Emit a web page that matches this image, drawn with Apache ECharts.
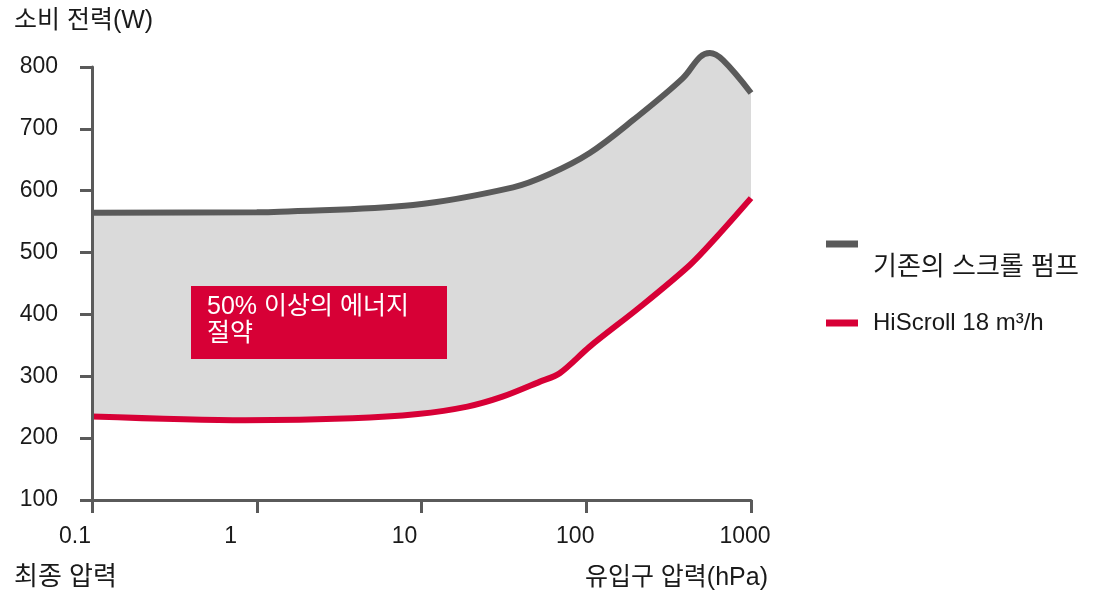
<!DOCTYPE html>
<html>
<head>
<meta charset="utf-8">
<script src="https://cdn.jsdelivr.net/npm/echarts@6/dist/echarts.min.js"></script>
<style>
html,body{margin:0;padding:0;background:#fff;}
#chart{width:1099px;height:595px;}
</style>
</head>
<body>
<div id="chart"></div>
<script>
// ---- data ----
var grayName = '기존의 스크롤 펌프';
var redName = 'HiScroll 18 m³/h';
var grayX = [0.1, 1, 1.38, 8.9, 36, 60, 105, 192, 386, 490, 563, 676, 1000];
var grayY = [564.5, 565, 566, 577, 605.5, 627, 661, 714, 782, 816, 822.6, 811, 758];
var redX = [0.1, 0.85, 3.8, 9.5, 19, 31, 52, 69, 105, 212, 426, 622, 1000];
var redY = [235, 229, 232, 239, 251, 267, 291, 305, 348, 412, 480, 526, 588];
var xTickLabels = ['0.1', '1', '10', '100', '1000'];
var yTicks = [100, 200, 300, 400, 500, 600, 700, 800];
var yTitle = '소비 전력(W)';
var xTitleLeft = '최종 압력';
var xTitleRight = '유입구 압력(hPa)';
var noteLines = ['50% 이상의 에너지', '절약'];

var FONT = "'Liberation Sans', 'Noto Sans CJK KR', sans-serif";
var TXT = '#1a1a1a';
var GRAY = '#5a5a5a';
var RED = '#d70036';
var FILL = '#dadada';

function pairs(xs, ys) { return xs.map(function (x, i) { return [x, ys[i]]; }); }

// per-label shift (right padding shifts centred label to the left)
var labelPad = [34, 52, 34, 22, 12];
var rich = {};
labelPad.forEach(function (p, i) {
  rich['p' + i] = { padding: [0, p, 0, 0], fontSize: 23, fontFamily: FONT, color: TXT };
});

var chart = echarts.init(document.getElementById('chart'));
chart.setOption({
  backgroundColor: '#fff',
  animation: false,
  grid: { left: 92, right: 348, top: 67, bottom: 95, containLabel: false },
  xAxis: {
    type: 'log', logBase: 10, min: 0.1, max: 1000, z: 10,
    axisLine: { lineStyle: { color: GRAY, width: 3 } },
    axisTick: { show: true, length: 13, lineStyle: { color: GRAY, width: 3 } },
    minorTick: { show: false },
    splitLine: { show: false },
    axisLabel: {
      margin: 25, showMinLabel: true, showMaxLabel: true,
      fontSize: 23, fontFamily: FONT, color: TXT,
      formatter: function (v) {
        var i = Math.round(Math.log10(v)) + 1;
        return '{p' + i + '|' + xTickLabels[i] + '}';
      },
      rich: rich
    }
  },
  yAxis: {
    type: 'value', min: yTicks[0], max: yTicks[yTicks.length - 1], interval: 100, z: 10,
    axisLine: { show: true, lineStyle: { color: GRAY, width: 3 } },
    axisTick: { show: true, length: 12, lineStyle: { color: GRAY, width: 3 } },
    splitLine: { show: false },
    axisLabel: { margin: 34, fontSize: 23, fontFamily: FONT, color: TXT }
  },
  legend: {
    orient: 'vertical', left: 826, top: 207, itemGap: 30, padding: 0,
    icon: 'rect', itemWidth: 32, itemHeight: 7,
    data: [grayName, redName],
    formatter: function (n) { return n === grayName ? '{a|' + n + '}' : '{b|' + n + '}'; },
    textStyle: {
      fontSize: 24, fontFamily: FONT, color: TXT,
      rich: {
        a: { padding: [48, 0, 0, 10], fontSize: 26, fontFamily: FONT, color: TXT, lineHeight: 24 },
        b: { padding: [0, 0, 0, 10], fontSize: 24, fontFamily: FONT, color: TXT, lineHeight: 24 }
      }
    }
  },
  series: [
    {
      name: grayName, type: 'line', data: pairs(grayX, grayY),
      symbol: 'none', smooth: 0.35, clip: false, z: 2,
      color: GRAY,
      lineStyle: { color: GRAY, width: 6 },
      itemStyle: { color: GRAY },
      areaStyle: { color: FILL, opacity: 1, origin: 'start' }
    },
    {
      name: redName, type: 'line', data: pairs(redX, redY),
      symbol: 'none', smooth: 0.3, clip: false, z: 3,
      color: RED,
      lineStyle: { color: RED, width: 6 },
      itemStyle: { color: RED },
      areaStyle: { color: '#ffffff', opacity: 1, origin: 'start' }
    }
  ],
  graphic: [
    { type: 'text', x: 14, y: 21, style: { text: yTitle, font: '25px ' + FONT, fill: TXT, verticalAlign: 'middle' } },
    { type: 'text', x: 14, y: 578, style: { text: xTitleLeft, font: '26px ' + FONT, fill: TXT, verticalAlign: 'middle' } },
    { type: 'text', x: 768, y: 578, style: { text: xTitleRight, font: '25px ' + FONT, fill: TXT, verticalAlign: 'middle', align: 'right' } },
    { type: 'rect', shape: { x: 191, y: 286, width: 256, height: 73 }, style: { fill: RED }, z: 20 },
    { type: 'text', x: 207, y: 307, z: 21, style: { text: noteLines[0], font: '25px ' + FONT, fill: '#fff', verticalAlign: 'middle' } },
    { type: 'text', x: 207, y: 334, z: 21, style: { text: noteLines[1], font: '25px ' + FONT, fill: '#fff', verticalAlign: 'middle' } }
  ]
});
</script>
</body>
</html>
